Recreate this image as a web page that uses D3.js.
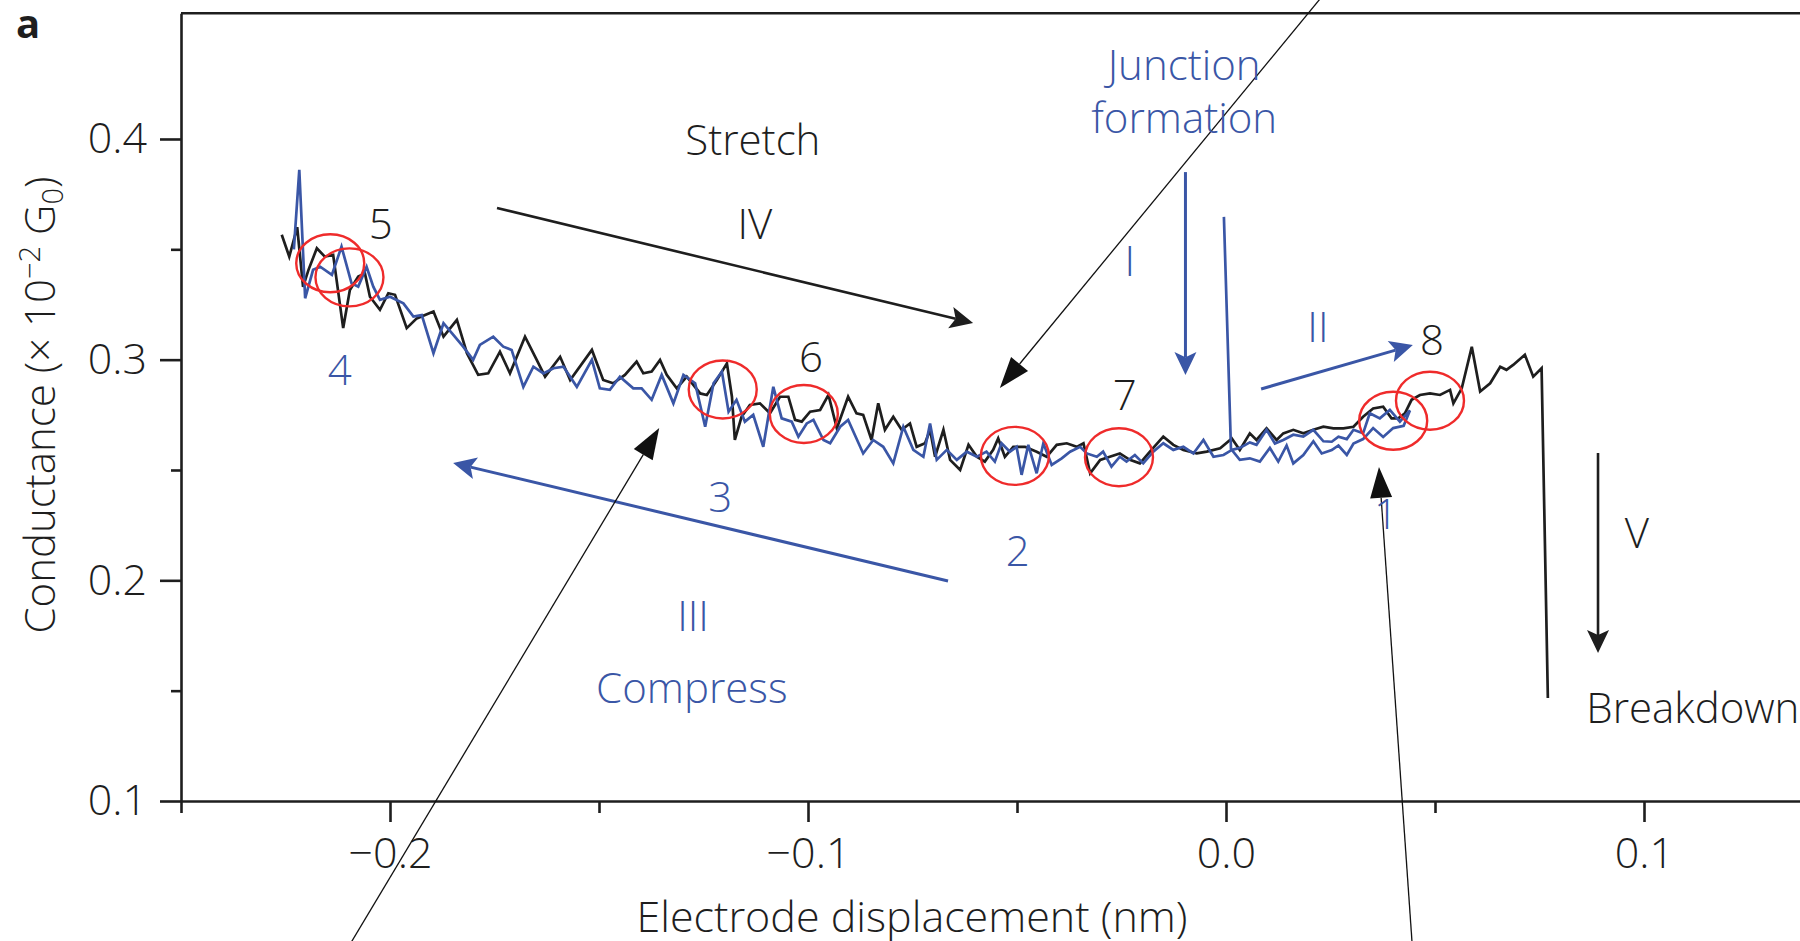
<!DOCTYPE html>
<html>
<head>
<meta charset="utf-8">
<script src="https://cdn.jsdelivr.net/npm/d3@7/dist/d3.min.js"></script>
<style>
  html, body { margin: 0; padding: 0; background: #fff; overflow: hidden; }
  svg { display: block; }
  text { font-family: "Open Sans", "Noto Sans", sans-serif; font-weight: 300; }
</style>
</head>
<body>
<svg id="chart" width="1800" height="941"></svg>
<script>
// ---- data: electrode displacement (nm) vs conductance (x10^-2 G0) ----

// stretch trace (black), left to right, ending with the breakdown drop
const stretchTrace = [
  [-0.2259,0.3566],[-0.2241,0.3467],[-0.2222,0.3600],[-0.2208,0.3330],[-0.2195,0.3407],[-0.2175,0.3505],
  [-0.2156,0.3467],[-0.2136,0.3475],[-0.2112,0.3143],[-0.2096,0.3316],[-0.2076,0.3377],[-0.2060,0.3391],
  [-0.2048,0.3285],[-0.2024,0.3226],[-0.2004,0.3301],[-0.1988,0.3294],[-0.1960,0.3143],[-0.1936,0.3187],
  [-0.1896,0.3218],[-0.1872,0.3104],[-0.1840,0.3180],[-0.1816,0.3029],[-0.1789,0.2931],[-0.1765,0.2938],
  [-0.1737,0.3036],[-0.1713,0.2938],[-0.1677,0.3104],[-0.1649,0.2999],[-0.1629,0.2923],[-0.1593,0.3013],
  [-0.1569,0.2908],[-0.1517,0.3044],[-0.1490,0.2908],[-0.1466,0.2893],[-0.1438,0.2931],[-0.1410,0.2991],
  [-0.1394,0.2938],[-0.1374,0.2946],[-0.1354,0.2999],[-0.1338,0.2931],[-0.1314,0.2870],[-0.1290,0.2923],
  [-0.1258,0.2847],[-0.1242,0.2840],[-0.1218,0.2908],[-0.1194,0.2983],[-0.1182,0.2832],[-0.1175,0.2636],
  [-0.1159,0.2741],[-0.1139,0.2795],[-0.1115,0.2802],[-0.1091,0.2757],[-0.1067,0.2832],[-0.1047,0.2832],
  [-0.1031,0.2727],[-0.1015,0.2719],[-0.0995,0.2764],[-0.0971,0.2772],[-0.0951,0.2840],[-0.0931,0.2689],
  [-0.0904,0.2832],[-0.0884,0.2757],[-0.0868,0.2750],[-0.0848,0.2636],[-0.0832,0.2802],[-0.0816,0.2682],
  [-0.0796,0.2741],[-0.0776,0.2682],[-0.0756,0.2711],[-0.0740,0.2605],[-0.0720,0.2621],[-0.0708,0.2682],
  [-0.0696,0.2560],[-0.0676,0.2682],[-0.0660,0.2546],[-0.0636,0.2500],[-0.0616,0.2614],[-0.0596,0.2560],
  [-0.0577,0.2538],[-0.0557,0.2591],[-0.0545,0.2643],[-0.0529,0.2560],[-0.0509,0.2605],[-0.0481,0.2605],
  [-0.0453,0.2583],[-0.0429,0.2560],[-0.0405,0.2614],[-0.0381,0.2621],[-0.0357,0.2605],[-0.0341,0.2621],
  [-0.0325,0.2485],[-0.0301,0.2546],[-0.0278,0.2560],[-0.0254,0.2575],[-0.0230,0.2546],[-0.0206,0.2530],
  [-0.0182,0.2583],[-0.0150,0.2651],[-0.0126,0.2614],[-0.0102,0.2591],[-0.0070,0.2575],[-0.0046,0.2583],
  [-0.0014,0.2598],[0.0014,0.2643],[0.0033,0.2591],[0.0057,0.2666],[0.0073,0.2636],[0.0097,0.2689],
  [0.0121,0.2636],[0.0137,0.2666],[0.0161,0.2682],[0.0185,0.2666],[0.0209,0.2682],[0.0233,0.2696],
  [0.0257,0.2689],[0.0281,0.2689],[0.0305,0.2696],[0.0328,0.2741],[0.0352,0.2779],[0.0376,0.2787],
  [0.0396,0.2734],[0.0412,0.2734],[0.0428,0.2757],[0.0444,0.2818],[0.0464,0.2840],[0.0488,0.2847],
  [0.0512,0.2840],[0.0536,0.2863],[0.0544,0.2802],[0.0564,0.2870],[0.0588,0.3058],[0.0608,0.2856],
  [0.0632,0.2893],[0.0656,0.2968],[0.0671,0.2954],[0.0687,0.2976],[0.0715,0.3022],[0.0735,0.2923],
  [0.0755,0.2961],[0.0770,0.1467]
];

// formation + compress trace (blue): jump at 0, forward to ~0.044, then back to the left
const compressTrace = [
  [-0.0005,0.3647],[0.0012,0.2590],[0.0033,0.2600],[0.0057,0.2625],[0.0073,0.2614],[0.0097,0.2682],
  [0.0117,0.2620],[0.0137,0.2636],[0.0161,0.2660],[0.0185,0.2651],[0.0209,0.2682],[0.0233,0.2630],
  [0.0253,0.2628],[0.0269,0.2651],[0.0289,0.2640],[0.0305,0.2682],[0.0328,0.2666],[0.0344,0.2757],
  [0.0368,0.2734],[0.0392,0.2772],[0.0416,0.2719],[0.0428,0.2745],[0.0440,0.2770],
  [0.0425,0.2700],[0.0400,0.2690],[0.0376,0.2650],[0.0352,0.2690],[0.0328,0.2640],[0.0305,0.2620],
  [0.0289,0.2568],[0.0269,0.2611],[0.0253,0.2590],[0.0229,0.2575],[0.0209,0.2630],[0.0185,0.2568],
  [0.0161,0.2530],[0.0145,0.2611],[0.0125,0.2538],[0.0105,0.2600],[0.0081,0.2538],[0.0057,0.2553],
  [0.0033,0.2546],[0.0014,0.2591],[-0.0006,0.2568],[-0.0030,0.2560],[-0.0054,0.2636],[-0.0078,0.2575],
  [-0.0102,0.2605],[-0.0126,0.2591],[-0.0150,0.2621],[-0.0174,0.2583],[-0.0198,0.2530],[-0.0218,0.2568],
  [-0.0238,0.2538],[-0.0254,0.2560],[-0.0274,0.2515],[-0.0294,0.2583],[-0.0309,0.2560],[-0.0333,0.2575],
  [-0.0349,0.2605],[-0.0373,0.2583],[-0.0393,0.2553],[-0.0417,0.2523],[-0.0437,0.2621],[-0.0453,0.2485],
  [-0.0473,0.2614],[-0.0489,0.2478],[-0.0501,0.2605],[-0.0517,0.2583],[-0.0537,0.2621],[-0.0553,0.2538],
  [-0.0573,0.2583],[-0.0596,0.2560],[-0.0620,0.2583],[-0.0644,0.2546],[-0.0668,0.2591],[-0.0692,0.2546],
  [-0.0708,0.2711],[-0.0724,0.2560],[-0.0748,0.2591],[-0.0772,0.2696],[-0.0796,0.2530],[-0.0820,0.2605],
  [-0.0844,0.2636],[-0.0868,0.2575],[-0.0904,0.2727],[-0.0923,0.2696],[-0.0947,0.2621],[-0.0963,0.2636],
  [-0.0987,0.2727],[-0.1003,0.2711],[-0.1023,0.2651],[-0.1039,0.2719],[-0.1063,0.2734],[-0.1083,0.2877],
  [-0.1107,0.2605],[-0.1131,0.2750],[-0.1151,0.2719],[-0.1171,0.2818],[-0.1190,0.2764],[-0.1206,0.2946],
  [-0.1226,0.2893],[-0.1246,0.2696],[-0.1270,0.2893],[-0.1298,0.2931],[-0.1322,0.2802],[-0.1350,0.2931],
  [-0.1374,0.2818],[-0.1398,0.2870],[-0.1418,0.2870],[-0.1450,0.2923],[-0.1474,0.2863],[-0.1498,0.2870],
  [-0.1517,0.2999],[-0.1553,0.2877],[-0.1585,0.2968],[-0.1609,0.2961],[-0.1633,0.2938],[-0.1657,0.2968],
  [-0.1681,0.2877],[-0.1709,0.3044],[-0.1729,0.3059],[-0.1753,0.3104],[-0.1785,0.3067],[-0.1801,0.2999],
  [-0.1825,0.3059],[-0.1852,0.3120],[-0.1872,0.3165],[-0.1896,0.3029],[-0.1924,0.3202],[-0.1944,0.3195],
  [-0.1968,0.3255],[-0.2000,0.3285],[-0.2024,0.3271],[-0.2040,0.3331],[-0.2056,0.3421],[-0.2076,0.3331],
  [-0.2092,0.3346],[-0.2116,0.3512],[-0.2139,0.3384],[-0.2167,0.3421],[-0.2184,0.3407],[-0.2203,0.3278],
  [-0.2217,0.3860],[-0.2230,0.3500]
];

// marked states along the cycle (ellipse centres)
const markedStates = [
  [-0.2143,0.3437],[-0.2097,0.3373],[-0.1204,0.2865],[-0.1010,0.2754],
  [-0.0505,0.2564],[-0.0256,0.2558],[0.0400,0.2723],[0.0488,0.2814]
];

// axis ticks
const xMajorTicks = [-0.2, -0.1, 0.0, 0.1];
const xMinorTicks = [-0.25, -0.15, -0.05, 0.05, 0.15];
const yMajorTicks = [0.1, 0.2, 0.3, 0.4];
const yMinorTicks = [0.15, 0.25, 0.35];

// annotation labels: [text, x (nm), G, colour key, anchor]
const labels = [
  ["Stretch", -0.1132, 0.3927, "k", "middle"],
  ["IV", -0.1127, 0.3547, "k", "middle"],
  ["Junction", -0.0100, 0.4267, "b", "middle"],
  ["formation", -0.0100, 0.4027, "b", "middle"],
  ["I", -0.0230, 0.3379, "b", "middle"],
  ["II", 0.0220, 0.3080, "b", "middle"],
  ["8", 0.0493, 0.3021, "k", "middle"],
  ["7", -0.0242, 0.2772, "k", "middle"],
  ["6", -0.0993, 0.2944, "k", "middle"],
  ["5", -0.2022, 0.3547, "k", "middle"],
  ["4", -0.2120, 0.2885, "b", "middle"],
  ["3", -0.1210, 0.2310, "b", "middle"],
  ["2", -0.0498, 0.2065, "b", "middle"],
  ["III", -0.1275, 0.1770, "b", "middle"],
  ["Compress", -0.1278, 0.1444, "b", "middle"],
  ["1", 0.0383, 0.2233, "b", "middle"],
  ["V", 0.0983, 0.2146, "k", "middle"],
  ["Breakdown", 0.0862, 0.1353, "k", "start"]
];

// process arrows: [x1, G1, x2 (tip), G2 (tip), colour key]
const processArrows = [
  [-0.1744, 0.3687, -0.0605, 0.3166, "k"],
  [-0.0097, 0.3850, -0.0097, 0.2930, "b"],
  [0.0084, 0.2867, 0.0447, 0.3066, "b"],
  [-0.0665, 0.1997, -0.1849, 0.2532, "b"],
  [0.0890, 0.2577, 0.0890, 0.1671, "k"]
];

// thin pointer lines running off the frame: [x1, G1, x2 (tip), G2 (tip)]
const pointerLines = [
  [0.0262, 0.4720, -0.0541, 0.2872],
  [-0.2118, 0.0280, -0.1356, 0.2690],
  [0.0448, 0.0280, 0.0366, 0.2514]
];

// ---- drawing ----
const COLORS = { k: "#1e1e1e", b: "#3a56a6", red: "#ef2b2b" };
const FONT = 42;

const svg = d3.select("#chart");
const x = d3.scaleLinear().domain([-0.25, 0.15]).range([181, 1853]);
const y = d3.scaleLinear().domain([0.1, 0.457]).range([801, 13.2]);

// frame top edge
svg.append("line")
  .attr("x1", x.range()[0]).attr("x2", x.range()[1])
  .attr("y1", y.range()[1]).attr("y2", y.range()[1])
  .attr("stroke", COLORS.k).attr("stroke-width", 2.6);

function styleAxis(g) {
  g.selectAll("path.domain").attr("stroke", COLORS.k).attr("stroke-width", 2.6);
  g.selectAll(".tick line").attr("stroke", COLORS.k).attr("stroke-width", 2.6);
  g.selectAll(".tick text")
    .attr("font-family", '"Open Sans", "Noto Sans", sans-serif')
    .attr("font-weight", 300)
    .attr("font-size", FONT + 1).attr("fill", COLORS.k);
}

const fmt = d3.format(".1f");

// x axis
svg.append("g").attr("transform", `translate(0,${y(0.1)})`)
  .call(d3.axisBottom(x).tickValues(xMinorTicks).tickSize(12).tickSizeOuter(0).tickFormat(""))
  .call(g => g.select("path.domain").remove())
  .call(styleAxis);
svg.append("g").attr("transform", `translate(0,${y(0.1)})`)
  .call(d3.axisBottom(x).tickValues(xMajorTicks).tickSize(21).tickSizeOuter(0).tickPadding(15).tickFormat(fmt))
  .call(styleAxis);

// y axis
svg.append("g").attr("transform", `translate(${x(-0.25)},0)`)
  .call(d3.axisLeft(y).tickValues(yMinorTicks).tickSize(10).tickSizeOuter(0).tickFormat(""))
  .call(g => g.select("path.domain").remove())
  .call(styleAxis);
svg.append("g").attr("transform", `translate(${x(-0.25)},0)`)
  .call(d3.axisLeft(y).tickValues(yMajorTicks).tickSize(21).tickSizeOuter(0).tickPadding(13).tickFormat(fmt))
  .call(styleAxis);

// axis titles
svg.append("text")
  .attr("x", 912).attr("y", 932)
  .attr("text-anchor", "middle").attr("font-size", FONT + 1).attr("fill", COLORS.k)
  .text("Electrode displacement (nm)");

const yTitle = svg.append("text")
  .attr("transform", "translate(55,405) rotate(-90)")
  .attr("text-anchor", "middle").attr("font-size", FONT).attr("fill", COLORS.k);
yTitle.append("tspan").text("Conductance (× 10");
yTitle.append("tspan").attr("font-size", 29).attr("dy", -15).text("−2");
yTitle.append("tspan").attr("dy", 15).text(" G");
yTitle.append("tspan").attr("font-size", 29).attr("dy", 8).text("0");
yTitle.append("tspan").attr("dy", -8).text(")");

// panel letter
svg.append("text").attr("x", 16).attr("y", 38)
  .attr("font-size", 40).style("font-weight", 700).attr("fill", COLORS.k).text("a");

// traces
const line = d3.line().x(d => x(d[0])).y(d => y(d[1]));
svg.append("path").datum(stretchTrace)
  .attr("d", line).attr("fill", "none")
  .attr("stroke", COLORS.k).attr("stroke-width", 2.7).attr("stroke-linejoin", "miter");
svg.append("path").datum(compressTrace)
  .attr("d", line).attr("fill", "none")
  .attr("stroke", COLORS.b).attr("stroke-width", 2.7).attr("stroke-linejoin", "miter");

// marked states
svg.append("g").selectAll("ellipse").data(markedStates).join("ellipse")
  .attr("cx", d => x(d[0])).attr("cy", d => y(d[1]))
  .attr("rx", 34).attr("ry", 29)
  .attr("fill", "none").attr("stroke", COLORS.red).attr("stroke-width", 2.4);

// arrow helper: shaft from (x1,y1) to the head, filled head with tip at (x2,y2)
function arrow(g, x1, y1, x2, y2, o) {
  const dx = x2 - x1, dy = y2 - y1, L = Math.hypot(dx, dy);
  const ux = dx / L, uy = dy / L, px = -uy, py = ux;
  const bx = x2 - ux * o.len, by = y2 - uy * o.len;
  const nx = x2 - ux * o.len * (1 - o.notch), ny = y2 - uy * o.len * (1 - o.notch);
  g.append("line")
    .attr("x1", x1).attr("y1", y1).attr("x2", nx).attr("y2", ny)
    .attr("stroke", o.color).attr("stroke-width", o.width);
  g.append("path")
    .attr("d", `M${x2},${y2}L${bx + px * o.wid / 2},${by + py * o.wid / 2}L${nx},${ny}L${bx - px * o.wid / 2},${by - py * o.wid / 2}Z`)
    .attr("fill", o.color);
}

const arrows = svg.append("g");
processArrows.forEach(a => {
  arrow(arrows, x(a[0]), y(a[1]), x(a[2]), y(a[3]),
    { len: 23, wid: 22, notch: 0.22, color: COLORS[a[4]], width: a[4] === "b" ? 3 : 2.6 });
});
pointerLines.forEach(a => {
  arrow(arrows, x(a[0]), y(a[1]), x(a[2]), y(a[3]),
    { len: 31, wid: 22, notch: 0, color: "#111", width: 1.3 });
});

// labels
svg.append("g").selectAll("text").data(labels).join("text")
  .attr("x", d => x(d[1])).attr("y", d => y(d[2]))
  .attr("text-anchor", d => d[4])
  .attr("font-size", FONT)
  .attr("fill", d => COLORS[d[3]])
  .text(d => d[0]);
</script>
</body>
</html>
